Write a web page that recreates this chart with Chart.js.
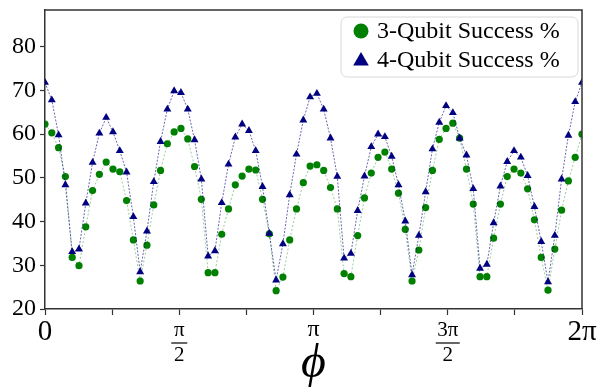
<!DOCTYPE html>
<html>
<head>
<meta charset="utf-8">
<script src="https://cdn.jsdelivr.net/npm/chart.js@4/dist/chart.umd.min.js"></script>
<style>
  html, body { margin: 0; padding: 0; background: #fff; }
  #wrap { width: 598px; height: 388px; }
</style>
</head>
<body>
<div id="wrap"><canvas id="c" width="598" height="388"></canvas></div>
<script>
// Sample grid: 80 evenly spaced phase values from 0 to 2π
const sampleCount = 80;
const phi = Array.from({ length: sampleCount }, (_, i) => i * 2 * Math.PI / (sampleCount - 1));

const seriesLabels = ['3-Qubit Success %', '4-Qubit Success %'];

const qubit3 = [
  62.3, 60.3, 56.9, 50.3, 31.8, 29.9, 38.8, 47.1, 50.8, 53.6,
  52.0, 51.4, 44.8, 35.8, 26.4, 34.6, 43.8, 51.7, 57.8, 60.5,
  61.3, 58.9, 52.6, 45.1, 28.3, 28.3, 37.1, 42.9, 48.4, 50.4,
  52.0, 51.8, 45.1, 37.2, 24.2, 27.3, 35.8, 42.9, 48.9, 52.7,
  53.0, 51.7, 47.8, 42.9, 28.1, 27.4, 36.8, 45.4, 51.1, 54.7,
  55.9, 52.0, 46.5, 38.2, 26.4, 33.5, 43.2, 51.7, 58.8, 61.3,
  62.5, 59.1, 52.0, 44.0, 27.4, 27.4, 36.2, 44.0, 50.3, 52.0,
  51.1, 47.5, 40.4, 31.8, 24.3, 33.7, 42.6, 49.3, 54.7, 60.0
];

const qubit4 = [
  71.8, 67.8, 59.8, 48.4, 33.1, 33.7, 44.2, 53.5, 60.2, 63.8,
  60.5, 56.2, 51.3, 41.1, 28.5, 37.8, 49.1, 58.3, 65.7, 69.9,
  69.5, 65.7, 58.7, 49.7, 32.1, 33.3, 44.3, 53.1, 59.3, 62.3,
  60.8, 56.2, 48.0, 37.3, 26.6, 34.9, 46.1, 55.4, 63.2, 68.5,
  69.3, 65.7, 59.1, 50.3, 31.6, 32.7, 42.5, 50.4, 57.1, 60.0,
  59.4, 54.9, 48.4, 40.1, 27.8, 36.8, 46.8, 56.6, 62.7, 66.5,
  64.9, 59.1, 55.2, 47.5, 29.3, 30.2, 39.7, 48.1, 53.7, 56.2,
  54.7, 50.5, 43.4, 35.4, 26.2, 36.8, 49.7, 59.7, 67.4, 71.8
];

// Tick positions (multiples of π/4) and labels
const xTickMultiples = [0, 1, 2, 3, 4, 5, 6, 7, 8];
const xTickLabels = { 0: '0', 2: ['π', '2'], 4: 'π', 6: ['3π', '2'], 8: '2π' };
const yTicks = [20, 30, 40, 50, 60, 70, 80];

const AXIS_COLOR = '#333';
const SERIF = '"Liberation Serif", "DejaVu Serif", serif';

const toPts = (arr) => arr.map((v, i) => ({ x: phi[i], y: v }));

const legendBox = {
  id: 'legendBox',
  afterDraw(chart) {
    const ctx = chart.ctx;
    const ca = chart.chartArea;
    const boxW = 237, boxH = 60;
    const left = ca.right - 4 - boxW, top = ca.top + 7;
    ctx.save();
    ctx.beginPath();
    const r = 6;
    ctx.moveTo(left + r, top);
    ctx.lineTo(left + boxW - r, top);
    ctx.arcTo(left + boxW, top, left + boxW, top + r, r);
    ctx.lineTo(left + boxW, top + boxH - r);
    ctx.arcTo(left + boxW, top + boxH, left + boxW - r, top + boxH, r);
    ctx.lineTo(left + r, top + boxH);
    ctx.arcTo(left, top + boxH, left, top + boxH - r, r);
    ctx.lineTo(left, top + r);
    ctx.arcTo(left, top, left + r, top, r);
    ctx.closePath();
    ctx.fillStyle = 'rgba(255,255,255,0.85)';
    ctx.fill();
    ctx.strokeStyle = '#d8d8d8';
    ctx.lineWidth = 1;
    ctx.stroke();
    chart.data.datasets.forEach((ds, i) => {
      const cy = top + 14 + i * 29;
      const cx = left + 20;
      ctx.fillStyle = ds.pointBackgroundColor;
      ctx.strokeStyle = ds.pointBackgroundColor;
      Chart.helpers.drawPoint(ctx, {
        pointStyle: ds.pointStyle,
        radius: ds.pointStyle === 'triangle' ? 9 : 7.5,
        rotation: 0,
        borderWidth: 0
      }, cx, cy + (ds.pointStyle === 'triangle' ? 1 : 0));
      ctx.fillStyle = '#000';
      ctx.font = '24px ' + SERIF;
      ctx.textBaseline = 'middle';
      ctx.textAlign = 'left';
      ctx.fillText(ds.label, left + 36, cy + 1);
    });
    ctx.restore();
  }
};

const fractionBars = {
  id: 'fractionBars',
  afterDraw(chart) {
    const xs = chart.scales.x;
    const ctx = chart.ctx;
    ctx.save();
    ctx.strokeStyle = '#000';
    ctx.lineWidth = 1.2;
    xTickMultiples.forEach((m) => {
      const lab = xTickLabels[m];
      if (Array.isArray(lab)) {
        const px = xs.getPixelForValue(m * Math.PI / 4);
        const half = lab[0].length > 1 ? 12 : 8;
        const y = xs.top + 34;
        ctx.beginPath();
        ctx.moveTo(px - half, y);
        ctx.lineTo(px + half, y);
        ctx.stroke();
      }
    });
    ctx.restore();
  }
};

function tickMultiple(ctx) {
  if (!ctx || !ctx.tick) return -1;
  return Math.round(ctx.tick.value / (Math.PI / 4));
}

new Chart(document.getElementById('c'), {
  type: 'line',
  data: {
    datasets: [
      {
        label: seriesLabels[0],
        data: toPts(qubit3),
        borderColor: 'rgba(0,128,0,0.4)',
        borderWidth: 1,
        borderDash: [2, 2],
        pointStyle: 'circle',
        pointRadius: 3.6,
        pointBackgroundColor: '#008000',
        pointBorderColor: '#008000',
        pointBorderWidth: 0,
        tension: 0,
        order: 1
      },
      {
        label: seriesLabels[1],
        data: toPts(qubit4),
        borderColor: 'rgba(0,0,128,0.6)',
        borderWidth: 1,
        borderDash: [2, 1.5],
        pointStyle: 'triangle',
        pointRadius: 4.6,
        pointBackgroundColor: '#000080',
        pointBorderColor: '#000080',
        pointBorderWidth: 0,
        tension: 0,
        order: 0
      }
    ]
  },
  options: {
    responsive: false,
    animation: false,
    layout: { padding: { top: 10, right: 16, left: 0, bottom: 0 } },
    plugins: {
      legend: { display: false },
      tooltip: { enabled: false }
    },
    scales: {
      x: {
        type: 'linear',
        min: 0,
        max: 2 * Math.PI,
        afterBuildTicks(scale) {
          scale.ticks = xTickMultiples.map((m) => ({ value: m * Math.PI / 4 }));
        },
        afterFit(scale) {
          scale.height = 79;
          scale.paddingLeft = 0;
          scale.paddingRight = 0;
        },
        border: { display: true, color: AXIS_COLOR, width: 1.5 },
        grid: { drawOnChartArea: false, drawTicks: true, tickLength: 6, color: AXIS_COLOR, tickWidth: 1.2 },
        ticks: {
          autoSkip: false,
          maxRotation: 0,
          padding: 3,
          color: '#000',
          font: (ctx) => {
            const m = tickMultiple(ctx);
            const lab = xTickLabels[m];
            if (Array.isArray(lab)) return { family: SERIF, size: 21, lineHeight: 1.2 };
            if (m === 4) return { family: SERIF, size: 24, lineHeight: 1.0 };
            return { family: SERIF, size: 29, lineHeight: 1.0 };
          },
          callback: (value) => {
            const m = Math.round(value / (Math.PI / 4));
            return xTickLabels[m] !== undefined ? xTickLabels[m] : '';
          }
        },
        title: {
          display: true,
          text: 'ϕ',
          color: '#000',
          font: { family: SERIF, size: 48, style: 'italic', lineHeight: 1.0 },
          padding: { top: 0, bottom: 0 }
        }
      },
      y: {
        min: 20,
        max: 88.4,
        afterBuildTicks(scale) {
          scale.ticks = yTicks.map((v) => ({ value: v }));
        },
        afterFit(scale) {
          scale.width = 45;
          scale.paddingTop = 0;
          scale.paddingBottom = 0;
        },
        border: { display: true, color: AXIS_COLOR, width: 1.5 },
        grid: { drawOnChartArea: false, drawTicks: true, tickLength: 5, color: AXIS_COLOR, tickWidth: 1.2 },
        ticks: {
          padding: 4,
          color: '#000',
          font: { family: SERIF, size: 24 }
        }
      }
    }
  },
  plugins: [
    legendBox,
    fractionBars,
    {
      id: 'frame',
      afterDraw(chart) {
        const ca = chart.chartArea;
        const ctx = chart.ctx;
        ctx.save();
        ctx.strokeStyle = AXIS_COLOR;
        ctx.lineWidth = 1.5;
        ctx.beginPath();
        ctx.moveTo(ca.left, ca.top);
        ctx.lineTo(ca.right, ca.top);
        ctx.lineTo(ca.right, ca.bottom);
        ctx.stroke();
        ctx.restore();
      }
    }
  ]
});
</script>
</body>
</html>
